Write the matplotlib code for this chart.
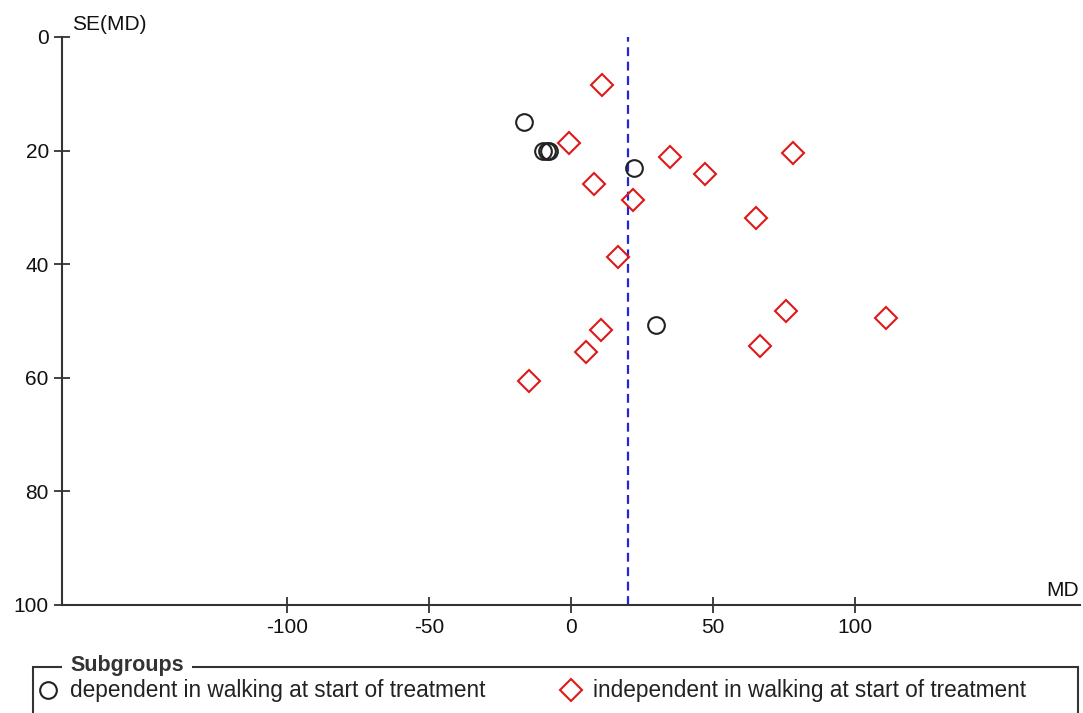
import numpy as np
import matplotlib.pyplot as plt
from matplotlib.patches import Rectangle

plt.rcParams['font.family'] = ['Liberation Sans', 'DejaVu Sans']
plt.rcParams['axes.unicode_minus'] = False

# mean differences and their standard errors, per subgroup
dep_md = [-16.5, -9.7, -8.6, -7.6, 22.2, 29.8]
dep_se = [15.0, 20.0, 20.0, 20.0, 23.0, 50.7]

indep_md = [10.8, -0.6, 34.9, 78.3, 8.0, 47.2, 21.7, 65.1, 16.5,
            75.7, 110.9, 10.6, 66.5, 5.3, -14.7]
indep_se = [8.45, 18.6, 21.2, 20.5, 25.8, 24.1, 28.7, 31.9, 38.8,
            48.2, 49.5, 51.5, 54.4, 55.4, 60.5]

pooled_md = 20.1

xticks = [-100, -50, 0, 50, 100]
yticks = [0, 20, 40, 60, 80, 100]

axis_col = '#333333'
fs = 15

W, H = 1083, 713
fig = plt.figure(figsize=(W / 100, H / 100), dpi=100)
ax = fig.add_axes([62 / W, (H - 605) / H, (1080 - 62) / W, (605 - 37) / H])

ax.axvline(pooled_md, color='#2424d8', lw=1.6, ls=(0, (4, 2.5)), zorder=1)

ax.plot(dep_md, dep_se, ls='none', marker='o', ms=12, mfc='none',
        mec='#222222', mew=1.5, label='dependent in walking at start of treatment',
        zorder=3)
ax.plot(indep_md, indep_se, ls='none', marker='D', ms=10.8, mfc='none',
        mec='#e01818', mew=1.5, label='independent in walking at start of treatment',
        zorder=3)

ax.set_xlim(-179.2, 179.2)
ax.set_ylim(100, 0)
ax.set_xticks(xticks)
ax.set_yticks(yticks)

for side in ['top', 'right']:
    ax.spines[side].set_visible(False)
for side in ['left', 'bottom']:
    ax.spines[side].set_color(axis_col)
    ax.spines[side].set_linewidth(1.5)

ax.tick_params(axis='both', direction='inout', length=11, width=1.3,
               color=axis_col, labelcolor='#111111', labelsize=fs)
ax.tick_params(axis='x', pad=4)
ax.tick_params(axis='y', pad=4)

ax.annotate('SE(MD)', xy=(0, 1), xycoords='axes fraction', xytext=(10, 13),
            textcoords='offset pixels', ha='left', va='center', fontsize=fs,
            color='#111111')
ax.annotate('MD', xy=(1, 0), xycoords='axes fraction', xytext=(-1, 15),
            textcoords='offset pixels', ha='right', va='center', fontsize=fs,
            color='#111111')

# subgroup box along the bottom edge
box = Rectangle((33 / W, -0.05), (1078 - 33) / W, (H - 667) / H + 0.05,
                transform=fig.transFigure, fill=False, ec=axis_col, lw=1.5)
fig.add_artist(box)
fig.text(70 / W, (H - 665) / H, 'Subgroups', ha='left', va='center',
         fontsize=15.5, fontweight='bold', color='#333333',
         bbox=dict(facecolor='white', edgecolor='none', pad=6))

fig.legend(loc='center left', bbox_to_anchor=(38 / W, (H - 691) / H),
           ncol=2, frameon=False, fontsize=16.3, handlelength=0.9,
           handletextpad=0.5, columnspacing=3.35, borderpad=0,
           borderaxespad=0, labelcolor='#222222')

fig.savefig('out.png', dpi=100)
